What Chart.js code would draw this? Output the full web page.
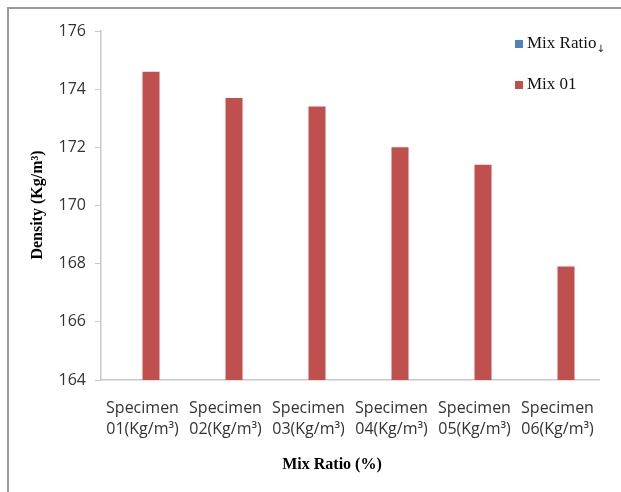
<!DOCTYPE html>
<html><head><meta charset="utf-8">
<script src="https://cdn.jsdelivr.net/npm/chart.js@4.4.1/dist/chart.umd.min.js"></script>
<style>html,body{margin:0;padding:0;background:#fff}#wrap{width:621px;height:492px;position:relative}</style>
</head><body><div id="wrap"><canvas id="c" width="621" height="492"></canvas></div>
<script>
const categories = [["Specimen","01(Kg/m³)"],["Specimen","02(Kg/m³)"],["Specimen","03(Kg/m³)"],["Specimen","04(Kg/m³)"],["Specimen","05(Kg/m³)"],["Specimen","06(Kg/m³)"]];
const mixRatio = [null,null,null,null,null,null];
const mix01 = [174.6,173.7,173.4,172.0,171.4,167.9];
const yTicks = [164,166,168,170,172,174,176];
const seriesNames = ["Mix Ratio","Mix 01"];
const colors = ["#4F81BD","#C0504D"];

const deco = {
  id:'deco',
  afterDraw(chart){
    const ctx = chart.ctx;
    ctx.save();
    // frame
    ctx.strokeStyle = '#9a9a9a'; ctx.lineWidth = 2;
    ctx.beginPath(); ctx.moveTo(8, 492); ctx.lineTo(8, 8); ctx.lineTo(621, 8); ctx.stroke();
    // axis titles
    ctx.fillStyle = '#000';
    ctx.font = 'bold 16px "Liberation Serif"';
    ctx.textAlign = 'center'; ctx.textBaseline = 'middle';
    ctx.fillText('Mix Ratio (%)', 332, 465);
    ctx.translate(38, 205); ctx.rotate(-Math.PI/2);
    ctx.fillText('Density (Kg/m³)', 0, 0);
    ctx.setTransform(1,0,0,1,0,0);
    // legend
    ctx.textAlign = 'left';
    ctx.font = '17px "Liberation Serif"';
    const ly = [44, 85];
    for (let i=0;i<2;i++){
      ctx.fillStyle = colors[i];
      ctx.fillRect(515, ly[i]-4, 8, 8);
      ctx.fillStyle = '#111';
      ctx.fillText(seriesNames[i], 527, ly[i]);
    }
    const w = ctx.measureText(seriesNames[0]).width;
    ctx.font = '10px "DejaVu Sans"';
    ctx.fillText('↓', 527 + w, ly[0]+5);
    ctx.restore();
  }
};

new Chart(document.getElementById('c'), {
  type:'bar',
  data:{
    labels: categories,
    datasets:[
      {label:seriesNames[0], data:mixRatio, backgroundColor:colors[0]},
      {label:seriesNames[1], data:mix01, backgroundColor:colors[1]}
    ]
  },
  options:{
    responsive:false, animation:false,
    layout:{padding:{top:31, right:22, left:0, bottom:0}},
    datasets:{bar:{categoryPercentage:0.41, barPercentage:1.0}},
    plugins:{legend:{display:false}, tooltip:{enabled:false}},
    scales:{
      x:{
        grid:{display:true, drawOnChartArea:false, drawTicks:false, color:'#c8c8c8'},
        border:{color:'#c8c8c8', width:1.5},
        ticks:{color:'#333', font:{family:'Open Sans', size:16, lineHeight:1.3}, padding:18, maxRotation:0, autoSkip:false},
        afterFit(s){ s.height = 112; }
      },
      y:{
        min:164, max:176,
        afterBuildTicks(s){ s.ticks = yTicks.map(v=>({value:v})); },
        grid:{display:true, drawOnChartArea:false, tickLength:6, color:'#c8c8c8'},
        border:{color:'#c8c8c8', width:1.5},
        ticks:{color:'#333', font:{family:'Open Sans', size:16}, padding:9},
        afterFit(s){ s.width = 101; }
      }
    }
  },
  plugins:[deco]
});
</script></body></html>
